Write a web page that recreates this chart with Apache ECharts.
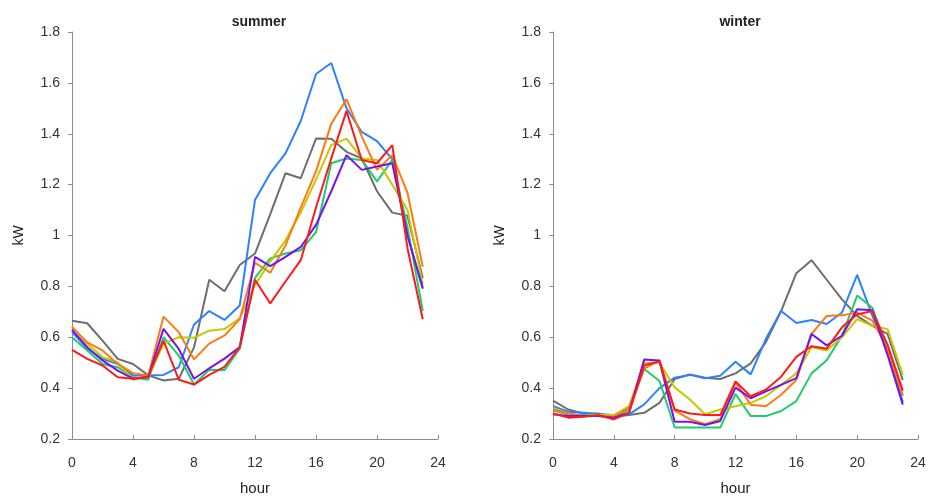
<!DOCTYPE html>
<html>
<head>
<meta charset="utf-8">
<script src="https://cdn.jsdelivr.net/npm/echarts@6/dist/echarts.min.js"></script>
<style>
html,body{margin:0;padding:0;background:#fff;}
#chart{width:930px;height:501px;}
</style>
</head>
<body>
<div id="chart"></div>
<script>
var hours = [0,1,2,3,4,5,6,7,8,9,10,11,12,13,14,15,16,17,18,19,20,21,22,23];
var xTicks = [0,4,8,12,16,20,24];
var yTicks = [0.2,0.4,0.6,0.8,1,1.2,1.4,1.6,1.8];
var panelTitles = ['summer','winter'];
var seriesNames = ['gray','blue','green','yellow','orange','purple','red'];

// summer (kW by hour)
var summerGray   = [0.665,0.655,0.587,0.515,0.495,0.45,0.43,0.437,0.56,0.826,0.781,0.884,0.929,1.084,1.245,1.225,1.381,1.38,1.329,1.303,1.174,1.09,1.078,0.833];
var summerBlue   = [0.62,0.555,0.515,0.495,0.45,0.45,0.452,0.482,0.65,0.703,0.668,0.725,1.14,1.245,1.323,1.45,1.635,1.678,1.5,1.407,1.371,1.30,1.0,0.79];
var summerGreen  = [0.6,0.548,0.495,0.482,0.443,0.433,0.6,0.528,0.414,0.472,0.471,0.555,0.833,0.91,0.929,0.942,1.013,1.284,1.303,1.297,1.213,1.297,1.032,0.703];
var summerYellow = [0.642,0.574,0.522,0.502,0.433,0.443,0.574,0.6,0.598,0.626,0.632,0.674,0.806,0.897,0.981,1.09,1.22,1.355,1.381,1.303,1.297,1.2,1.1,0.81];
var summerOrange = [0.64,0.58,0.548,0.495,0.459,0.45,0.681,0.62,0.513,0.575,0.607,0.671,0.893,0.854,0.961,1.11,1.252,1.439,1.536,1.39,1.258,1.316,1.168,0.877];
var summerPurple = [0.629,0.561,0.509,0.469,0.437,0.443,0.633,0.554,0.437,0.478,0.516,0.561,0.916,0.88,0.916,0.955,1.042,1.174,1.316,1.258,1.271,1.284,1.0,0.794];
var summerRed    = [0.55,0.515,0.489,0.443,0.437,0.446,0.587,0.433,0.414,0.452,0.484,0.561,0.826,0.733,0.819,0.903,1.11,1.303,1.49,1.297,1.284,1.355,0.95,0.671];

// winter (kW by hour)
var winterGray   = [0.351,0.316,0.3,0.3,0.287,0.294,0.303,0.342,0.436,0.454,0.441,0.436,0.458,0.497,0.581,0.703,0.852,0.903,0.826,0.749,0.684,0.645,0.613,0.432];
var winterBlue   = [0.329,0.307,0.303,0.297,0.294,0.297,0.336,0.4,0.441,0.452,0.439,0.449,0.504,0.454,0.594,0.703,0.656,0.668,0.652,0.697,0.845,0.684,0.55,0.345];
var winterGreen  = [0.312,0.297,0.294,0.294,0.287,0.316,0.475,0.428,0.245,0.245,0.245,0.245,0.377,0.29,0.29,0.31,0.349,0.458,0.51,0.606,0.764,0.716,0.55,0.37];
var winterYellow = [0.32,0.3,0.29,0.294,0.294,0.329,0.5,0.5,0.403,0.355,0.297,0.316,0.329,0.342,0.368,0.413,0.458,0.561,0.548,0.6,0.671,0.645,0.632,0.452];
var winterOrange = [0.316,0.3,0.29,0.29,0.287,0.323,0.477,0.509,0.312,0.278,0.258,0.278,0.423,0.335,0.329,0.374,0.432,0.613,0.684,0.686,0.697,0.665,0.555,0.372];
var winterPurple = [0.297,0.29,0.29,0.29,0.284,0.303,0.513,0.509,0.268,0.268,0.255,0.271,0.402,0.36,0.387,0.413,0.439,0.613,0.568,0.606,0.71,0.706,0.53,0.335];
var winterRed    = [0.3,0.284,0.287,0.294,0.277,0.303,0.49,0.505,0.316,0.3,0.294,0.294,0.426,0.368,0.394,0.445,0.523,0.565,0.555,0.639,0.69,0.703,0.57,0.39];

var colors = {gray:'#6e6e6e', blue:'#2f80ff', green:'#1fcc6a', yellow:'#c8c800', orange:'#ff7a10', purple:'#7a10f0', red:'#ff1a1a'};
var summerSets = [summerGray,summerBlue,summerGreen,summerYellow,summerOrange,summerPurple,summerRed];
var winterSets = [winterGray,winterBlue,winterGreen,winterYellow,winterOrange,winterPurple,winterRed];

var FONT = '"Liberation Sans", Arial, sans-serif';
var labelColor = '#333';
var axisColor = '#8c8c8c';

function pairs(vals){ return hours.map(function(h,i){ return [h, vals[i]]; }); }

function xAxisDef(gi){
  return {
    type:'value', gridIndex:gi, min:xTicks[0], max:xTicks[xTicks.length-1], interval:4,
    name:'hour', nameLocation:'middle', nameGap:42,
    nameTextStyle:{color:'#222', fontSize:15, fontFamily:FONT},
    axisLine:{show:true, onZero:false, lineStyle:{color:axisColor, width:1}},
    axisTick:{show:true, inside:true, length:4, lineStyle:{color:axisColor}},
    axisLabel:{color:labelColor, fontSize:14, fontFamily:FONT, margin:17},
    splitLine:{show:false}
  };
}
function yAxisDef(gi){
  return {
    type:'value', gridIndex:gi, min:yTicks[0], max:yTicks[yTicks.length-1], interval:0.2,
    name:'kW', nameLocation:'middle', nameGap:46,
    nameTextStyle:{color:'#222', fontSize:14, fontFamily:FONT},
    axisLine:{show:true, onZero:false, lineStyle:{color:axisColor, width:1}},
    axisTick:{show:true, inside:false, length:4, lineStyle:{color:axisColor}},
    axisLabel:{color:labelColor, fontSize:14, fontFamily:FONT, margin:12,
      formatter:function(v){ return String(Math.round(v*10)/10); }},
    splitLine:{show:false}
  };
}

var series = [];
[summerSets, winterSets].forEach(function(sets, gi){
  sets.forEach(function(vals, k){
    series.push({
      type:'line', name:seriesNames[k], xAxisIndex:gi, yAxisIndex:gi,
      data:pairs(vals), showSymbol:false, symbol:'none', silent:true,
      lineStyle:{color:colors[seriesNames[k]], width:2},
      itemStyle:{color:colors[seriesNames[k]]},
      animation:false
    });
  });
});

var chart = echarts.init(document.getElementById('chart'), null, {renderer:'canvas'});
chart.setOption({
  backgroundColor:'#fff',
  animation:false,
  title:[
    {text:panelTitles[0], left:254, top:10, textAlign:'center',
     textStyle:{fontSize:14, fontWeight:'bold', color:'#222', fontFamily:FONT}},
    {text:panelTitles[1], left:735, top:10, textAlign:'center',
     textStyle:{fontSize:14, fontWeight:'bold', color:'#222', fontFamily:FONT}}
  ],
  grid:[
    {left:72, right:492, top:32, bottom:59, containLabel:false},
    {left:553, right:12, top:32, bottom:59, containLabel:false}
  ],
  xAxis:[xAxisDef(0), xAxisDef(1)],
  yAxis:[yAxisDef(0), yAxisDef(1)],
  series:series
});
</script>
</body>
</html>
